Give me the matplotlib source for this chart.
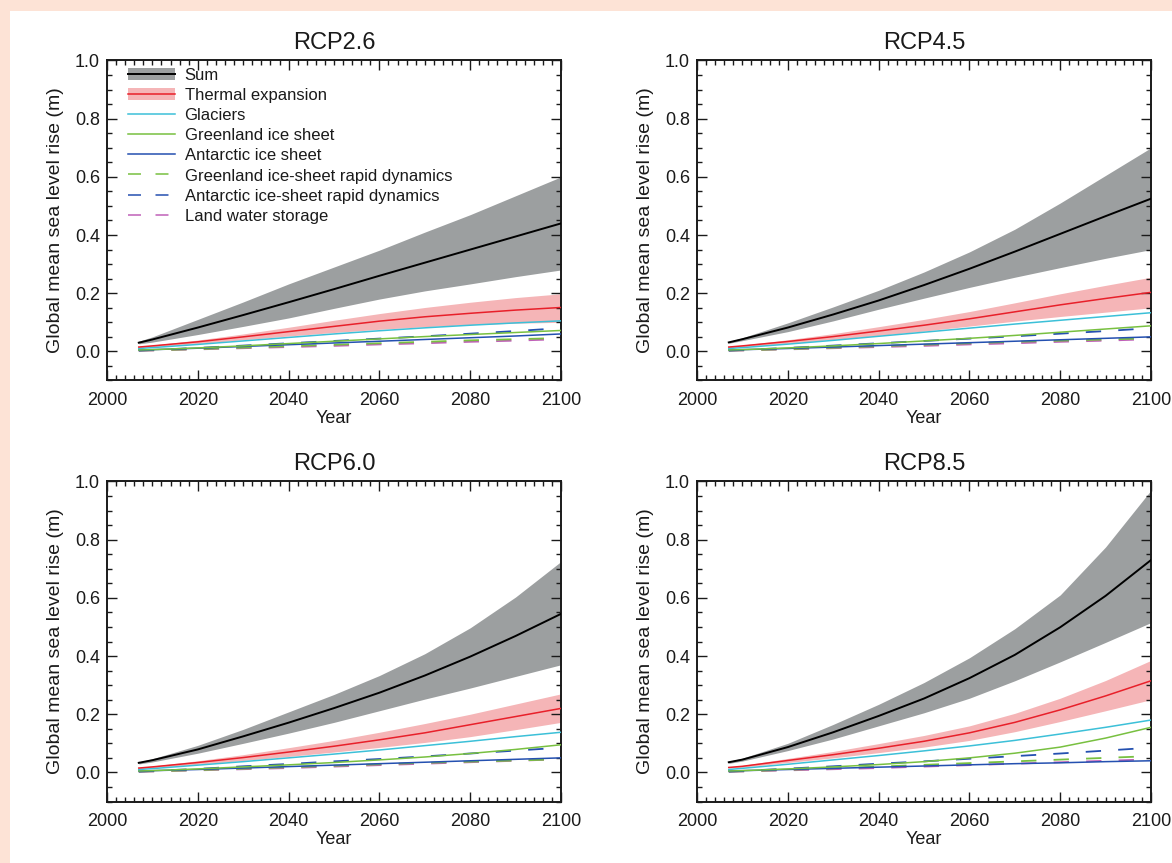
import matplotlib.pyplot as plt
from matplotlib.patches import Rectangle
from matplotlib.ticker import MultipleLocator, FormatStrFormatter

plt.rcParams['font.family'] = ['Liberation Sans', 'DejaVu Sans']

years = [2007, 2010, 2020, 2030, 2040, 2050, 2060, 2070, 2080, 2090, 2100]
scenarios = ["RCP2.6", "RCP4.5", "RCP6.0", "RCP8.5"]

# sum of contributions: median, lower and upper bound (m)
sum_mid = {
    "RCP2.6": [0.03, 0.041, 0.082, 0.125, 0.169, 0.214, 0.26, 0.305, 0.35, 0.395, 0.44],
    "RCP4.5": [0.031, 0.042, 0.082, 0.127, 0.175, 0.228, 0.284, 0.343, 0.404, 0.465, 0.525],
    "RCP6.0": [0.033, 0.042, 0.079, 0.124, 0.171, 0.221, 0.274, 0.333, 0.398, 0.469, 0.545],
    "RCP8.5": [0.035, 0.044, 0.087, 0.138, 0.194, 0.254, 0.324, 0.404, 0.499, 0.607, 0.73],
}
sum_lo = {
    "RCP2.6": [0.026, 0.032, 0.058, 0.086, 0.115, 0.148, 0.18, 0.208, 0.232, 0.257, 0.28],
    "RCP4.5": [0.028, 0.037, 0.068, 0.105, 0.145, 0.183, 0.22, 0.255, 0.288, 0.32, 0.35],
    "RCP6.0": [0.029, 0.036, 0.066, 0.1, 0.135, 0.172, 0.212, 0.252, 0.29, 0.33, 0.37],
    "RCP8.5": [0.031, 0.039, 0.075, 0.115, 0.16, 0.205, 0.255, 0.315, 0.38, 0.447, 0.515],
}
sum_hi = {
    "RCP2.6": [0.035, 0.05, 0.11, 0.17, 0.232, 0.29, 0.348, 0.41, 0.47, 0.535, 0.6],
    "RCP4.5": [0.034, 0.047, 0.098, 0.153, 0.21, 0.273, 0.342, 0.42, 0.51, 0.605, 0.7],
    "RCP6.0": [0.036, 0.047, 0.093, 0.148, 0.208, 0.268, 0.333, 0.408, 0.497, 0.603, 0.725],
    "RCP8.5": [0.038, 0.049, 0.1, 0.165, 0.234, 0.309, 0.394, 0.494, 0.61, 0.775, 0.97],
}

# thermal expansion: median, lower and upper bound (m)
thermal_mid = {
    "RCP2.6": [0.015, 0.019, 0.033, 0.05, 0.068, 0.086, 0.104, 0.119, 0.131, 0.142, 0.151],
    "RCP4.5": [0.015, 0.019, 0.034, 0.051, 0.07, 0.09, 0.112, 0.136, 0.16, 0.182, 0.203],
    "RCP6.0": [0.015, 0.019, 0.034, 0.051, 0.07, 0.09, 0.112, 0.136, 0.164, 0.192, 0.22],
    "RCP8.5": [0.017, 0.021, 0.041, 0.061, 0.083, 0.107, 0.136, 0.172, 0.215, 0.263, 0.315],
}
thermal_lo = {
    "RCP2.6": [0.013, 0.016, 0.027, 0.04, 0.053, 0.065, 0.076, 0.085, 0.092, 0.097, 0.1],
    "RCP4.5": [0.013, 0.016, 0.028, 0.041, 0.055, 0.07, 0.087, 0.104, 0.12, 0.135, 0.15],
    "RCP6.0": [0.013, 0.016, 0.028, 0.041, 0.055, 0.07, 0.086, 0.103, 0.123, 0.147, 0.172],
    "RCP8.5": [0.015, 0.018, 0.034, 0.05, 0.068, 0.087, 0.11, 0.14, 0.175, 0.212, 0.25],
}
thermal_hi = {
    "RCP2.6": [0.017, 0.022, 0.039, 0.06, 0.083, 0.107, 0.13, 0.151, 0.169, 0.185, 0.198],
    "RCP4.5": [0.017, 0.022, 0.04, 0.061, 0.085, 0.11, 0.137, 0.167, 0.198, 0.227, 0.255],
    "RCP6.0": [0.017, 0.022, 0.04, 0.061, 0.085, 0.11, 0.138, 0.168, 0.2, 0.235, 0.27],
    "RCP8.5": [0.019, 0.024, 0.048, 0.072, 0.099, 0.127, 0.16, 0.203, 0.255, 0.316, 0.385],
}

glaciers = {
    "RCP2.6": [0.01, 0.013, 0.024, 0.036, 0.048, 0.06, 0.071, 0.081, 0.09, 0.098, 0.105],
    "RCP4.5": [0.01, 0.013, 0.025, 0.038, 0.052, 0.066, 0.08, 0.094, 0.107, 0.12, 0.133],
    "RCP6.0": [0.01, 0.013, 0.025, 0.037, 0.05, 0.063, 0.077, 0.092, 0.107, 0.123, 0.138],
    "RCP8.5": [0.01, 0.014, 0.028, 0.043, 0.058, 0.074, 0.091, 0.11, 0.132, 0.155, 0.18],
}
greenland = {
    "RCP2.6": [0.005, 0.006, 0.012, 0.019, 0.027, 0.035, 0.043, 0.051, 0.058, 0.065, 0.072],
    "RCP4.5": [0.005, 0.006, 0.012, 0.019, 0.027, 0.036, 0.045, 0.055, 0.066, 0.077, 0.088],
    "RCP6.0": [0.005, 0.006, 0.012, 0.019, 0.026, 0.034, 0.043, 0.053, 0.065, 0.079, 0.095],
    "RCP8.5": [0.005, 0.006, 0.012, 0.019, 0.027, 0.037, 0.05, 0.066, 0.087, 0.118, 0.155],
}
antarctic = {
    "RCP2.6": [0.005, 0.006, 0.011, 0.017, 0.023, 0.029, 0.035, 0.041, 0.047, 0.053, 0.06],
    "RCP4.5": [0.005, 0.006, 0.01, 0.015, 0.02, 0.025, 0.03, 0.035, 0.04, 0.045, 0.05],
    "RCP6.0": [0.005, 0.006, 0.01, 0.015, 0.02, 0.025, 0.03, 0.035, 0.04, 0.045, 0.05],
    "RCP8.5": [0.005, 0.006, 0.01, 0.014, 0.018, 0.022, 0.026, 0.03, 0.033, 0.037, 0.04],
}
greenland_dyn = {
    "RCP2.6": [0.003, 0.004, 0.008, 0.013, 0.018, 0.023, 0.028, 0.033, 0.038, 0.042, 0.046],
    "RCP4.5": [0.003, 0.004, 0.008, 0.013, 0.018, 0.023, 0.028, 0.033, 0.037, 0.041, 0.045],
    "RCP6.0": [0.003, 0.004, 0.008, 0.013, 0.018, 0.023, 0.028, 0.033, 0.037, 0.041, 0.045],
    "RCP8.5": [0.003, 0.004, 0.009, 0.014, 0.02, 0.026, 0.032, 0.038, 0.044, 0.05, 0.056],
}
antarctic_dyn = {
    "RCP2.6": [0.003, 0.005, 0.012, 0.02, 0.028, 0.036, 0.044, 0.052, 0.061, 0.07, 0.08],
    "RCP4.5": [0.003, 0.005, 0.012, 0.02, 0.028, 0.036, 0.044, 0.052, 0.061, 0.07, 0.08],
    "RCP6.0": [0.003, 0.005, 0.012, 0.021, 0.029, 0.038, 0.046, 0.055, 0.065, 0.075, 0.085],
    "RCP8.5": [0.003, 0.005, 0.013, 0.021, 0.03, 0.038, 0.047, 0.056, 0.065, 0.075, 0.085],
}
land_water = {
    "RCP2.6": [0.002, 0.003, 0.007, 0.011, 0.015, 0.019, 0.024, 0.028, 0.033, 0.037, 0.042],
    "RCP4.5": [0.002, 0.003, 0.007, 0.011, 0.015, 0.019, 0.024, 0.028, 0.033, 0.037, 0.042],
    "RCP6.0": [0.002, 0.003, 0.007, 0.011, 0.015, 0.02, 0.025, 0.03, 0.035, 0.04, 0.045],
    "RCP8.5": [0.002, 0.003, 0.007, 0.011, 0.015, 0.02, 0.025, 0.03, 0.035, 0.04, 0.045],
}

legend_labels = ["Sum", "Thermal expansion", "Glaciers", "Greenland ice sheet",
                 "Antarctic ice sheet", "Greenland ice-sheet rapid dynamics",
                 "Antarctic ice-sheet rapid dynamics", "Land water storage"]

GREY_BAND = "#9c9fa0"
RED_BAND = "#f5b5b7"
RED = "#e8202a"
CYAN = "#3cc0d8"
GREEN = "#78c040"
BLUE = "#2450b0"
MAGENTA = "#c060b8"
TEXT = "#1a1a1a"
DASH = (0, (8.5, 9.5))

fig = plt.figure(figsize=(11.72, 8.63), dpi=100)
fig.patch.set_facecolor("#fde3d6")
fig.add_artist(Rectangle((10 / 1172, 0), 1, 1 - 11 / 863, transform=fig.transFigure,
                         facecolor="white", edgecolor="none", zorder=0))

# axes boxes in figure fractions: left, bottom, width, height
W, H = 1172, 863
boxes = [
    [107 / W, 1 - 380.5 / H, 454 / W, 320 / H],
    [697 / W, 1 - 380.5 / H, 454 / W, 320 / H],
    [107 / W, 1 - 801.5 / H, 454 / W, 320 / H],
    [697 / W, 1 - 801.5 / H, 454 / W, 320 / H],
]

for i, (name, box) in enumerate(zip(scenarios, boxes)):
    ax = fig.add_axes(box)
    x = years

    ax.fill_between(x, sum_lo[name], sum_hi[name], color=GREY_BAND, lw=0, zorder=1)
    ax.fill_between(x, thermal_lo[name], thermal_hi[name], color=RED_BAND, lw=0, zorder=1)

    ax.plot(x, land_water[name], color=MAGENTA, lw=1.3, ls=DASH, zorder=2)
    ax.plot(x, greenland_dyn[name], color=GREEN, lw=1.3, ls=DASH, zorder=2)
    ax.plot(x, antarctic_dyn[name], color=BLUE, lw=1.3, ls=DASH, zorder=2)
    ax.plot(x, antarctic[name], color=BLUE, lw=1.1, zorder=3)
    ax.plot(x, greenland[name], color=GREEN, lw=1.1, zorder=3)
    ax.plot(x, glaciers[name], color=CYAN, lw=1.1, zorder=3)
    ax.plot(x, thermal_mid[name], color=RED, lw=1.1, zorder=3)
    ax.plot(x, sum_mid[name], color="black", lw=1.4, zorder=3)

    ax.set_xlim(2000, 2100)
    ax.set_ylim(-0.1, 1.0)
    ax.xaxis.set_major_locator(MultipleLocator(20))
    ax.xaxis.set_minor_locator(MultipleLocator(2))
    ax.yaxis.set_major_locator(MultipleLocator(0.2))
    ax.yaxis.set_minor_locator(MultipleLocator(0.05))
    ax.yaxis.set_major_formatter(FormatStrFormatter("%.1f"))
    ax.tick_params(which="both", direction="in", top=True, right=True,
                   colors=TEXT, labelsize=13, width=1.0)
    ax.tick_params(which="major", length=7)
    ax.tick_params(which="minor", length=3.5)
    ax.tick_params(axis="x", which="major", pad=8)
    ax.tick_params(axis="y", which="major", pad=5)
    for s in ax.spines.values():
        s.set_linewidth(1.4)
        s.set_color(TEXT)

    ax.set_title(name, fontsize=17, color=TEXT, pad=8)
    ax.set_xlabel("Year", fontsize=13, color=TEXT, labelpad=1)
    ax.set_ylabel("Global mean sea level rise (m)", fontsize=14, color=TEXT, labelpad=8)

    if i == 0:
        band_sum = ax.fill_between([], [], [], color=GREY_BAND, lw=0)
        band_th = ax.fill_between([], [], [], color=RED_BAND, lw=0)
        l_sum, = ax.plot([], [], color="black", lw=1.4)
        l_th, = ax.plot([], [], color=RED, lw=1.1)
        l_gl, = ax.plot([], [], color=CYAN, lw=1.1)
        l_gr, = ax.plot([], [], color=GREEN, lw=1.1)
        l_an, = ax.plot([], [], color=BLUE, lw=1.1)
        l_grd, = ax.plot([], [], color=GREEN, lw=1.1, ls=DASH)
        l_and, = ax.plot([], [], color=BLUE, lw=1.1, ls=DASH)
        l_lw, = ax.plot([], [], color=MAGENTA, lw=1.1, ls=DASH)
        handles = [(band_sum, l_sum), (band_th, l_th), l_gl, l_gr, l_an, l_grd, l_and, l_lw]
        leg = ax.legend(handles, legend_labels, loc="upper left", frameon=False, fontsize=12,
                        handlelength=2.8, handleheight=0.8, labelspacing=0.3,
                        handletextpad=0.6, borderaxespad=0, borderpad=0,
                        bbox_to_anchor=(0.046, 0.978))
        for t in leg.get_texts():
            t.set_color(TEXT)

fig.savefig("out.png", dpi=100, facecolor=fig.get_facecolor())
